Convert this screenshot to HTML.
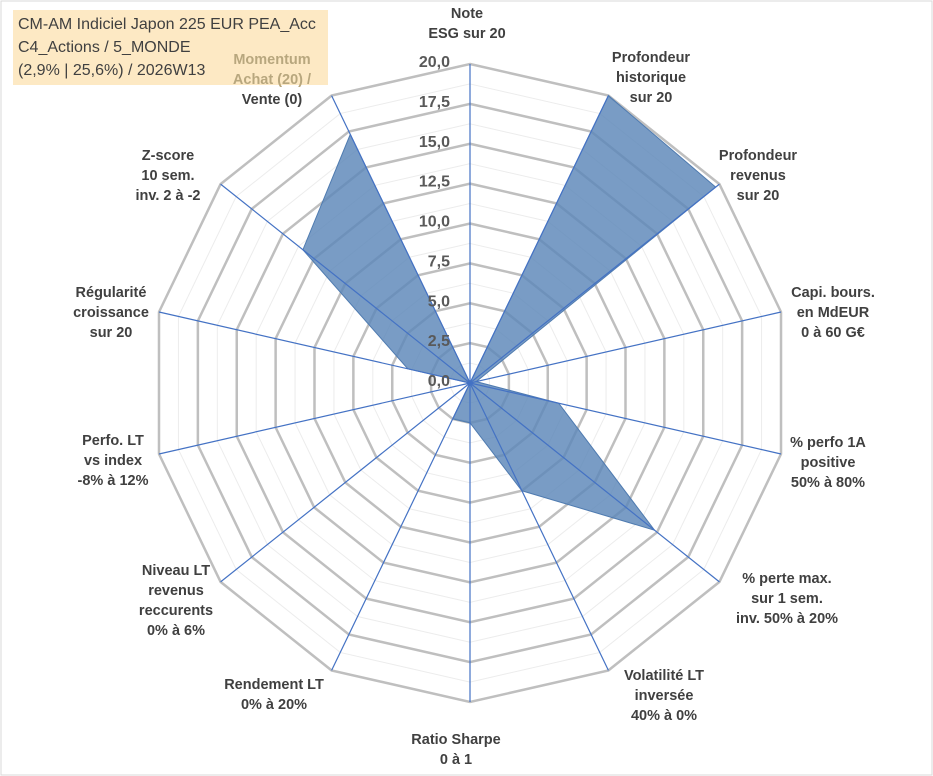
<!DOCTYPE html>
<html><head><meta charset="utf-8"><style>
body{margin:0;background:#fff;}
#wrap{position:relative;width:933px;height:776px;overflow:hidden;font-family:"Liberation Sans",Arial,sans-serif;}
.lbl{position:absolute;font-weight:bold;font-size:14.5px;color:#404040;text-align:center;line-height:20px;white-space:nowrap;transform:translateX(-50%);}
#title{position:absolute;left:13px;top:10px;width:315px;height:75px;background:#fde9c4;}
#title div{position:absolute;left:5px;font-size:16px;color:#404040;white-space:nowrap;}
</style></head><body>
<div id="wrap">
<svg id="chart" width="933" height="776" style="position:absolute;left:0;top:0">
<rect x="1" y="1" width="931" height="774" fill="none" stroke="#d9d9d9"/>
</svg>
<div id="title">
<div style="top:6px">CM-AM Indiciel Japon 225 EUR PEA_Acc</div>
<div style="top:29px">C4_Actions / 5_MONDE</div>
<div style="top:52px">(2,9% | 25,6%) / 2026W13</div>
</div>
<div id="labels"></div>
</div>
<script>
const categories=["Note\nESG sur 20","Profondeur\nhistorique\nsur 20","Profondeur\nrevenus\nsur 20","Capi. bours.\nen MdEUR\n0 à 60 G€","% perfo 1A\npositive\n50% à 80%","% perte max.\nsur 1 sem.\ninv. 50% à 20%","Volatilité LT\ninversée\n40% à 0%","Ratio Sharpe\n0 à 1","Rendement LT\n0% à 20%","Niveau LT\nrevenus\nreccurents\n0% à 6%","Perfo. LT\nvs index\n-8% à 12%","Régularité\ncroissance\nsur 20","Z-score\n10 sem.\ninv. 2 à -2","Momentum\nAchat (20) /\nVente (0)"];
const values=[0,20,19.7,0.4,5.7,14.8,7.5,2.5,2.5,0,0,4,13.4,17.3];
const tickLabels=["0,0","2,5","5,0","7,5","10,0","12,5","15,0","17,5","20,0"];
const tickValues=[0,2.5,5,7.5,10,12.5,15,17.5,20];
const maxV=20;
</script>
<script>
const cx=470,cy=383,R=319,N=categories.length;
const svg=document.getElementById('chart'),NS="http://www.w3.org/2000/svg";
function ang(i){return 2*Math.PI*i/N;}
function pt(i,v){const r=v/maxV*R;return [cx+r*Math.sin(ang(i)),cy-r*Math.cos(ang(i))];}
function mk(t,a){const e=document.createElementNS(NS,t);for(const k in a)e.setAttribute(k,a[k]);svg.appendChild(e);return e;}
for(let k=0;k<tickValues.length-1;k++){const v=(tickValues[k]+tickValues[k+1])/2;
 const p=mk('polygon',{points:categories.map((c,i)=>pt(i,v).join(',')).join(' '),fill:'none',stroke:'#ececec','stroke-width':1});
 
 }
tickValues.forEach(v=>{if(v===0)return;
 const p=mk('polygon',{points:categories.map((c,i)=>pt(i,v).join(',')).join(' '),fill:'none',stroke:'#bfbfbf','stroke-width':2.5});
 
 });
const poly=mk('polygon',{points:values.map((v,i)=>pt(i,v).join(',')).join(' '),fill:'#5b86b8','fill-opacity':0.82,stroke:'#4f7bb0','stroke-width':1});


categories.forEach((c,i)=>{const [x,y]=pt(i,maxV);
 const l=mk('line',{x1:cx,y1:cy,x2:x,y2:y,stroke:'#4472c4','stroke-width':1.2});
 
 });
tickValues.forEach((v,k)=>{const y=cy-v/maxV*R;
 const t=mk('text',{x:cx-20,y:y+3,'text-anchor':'end','font-size':'16','font-weight':'bold',fill:'#595959','font-family':'Liberation Sans, sans-serif'});
 t.textContent=tickLabels[k];
 
 });
const lp=[[467,4],[651,48],[758,146],[833,283],[828,433],[787,569],[664,666],[456,730],[274,675],[176,561],[113,431],[111,283],[168,146],[272,50]];
const labels=document.getElementById('labels');
categories.forEach((c,i)=>{const d=document.createElement('div');
 d.className='lbl';d.style.left=lp[i][0]+'px';d.style.top=lp[i][1]+'px';
 if(i===13){const ls=c.split('\n');d.innerHTML='<span style="color:#b8a77e">'+ls[0]+'<br>'+ls[1]+'</span><br>'+ls[2];}
 else d.innerHTML=c.split('\n').join('<br>');
 
 
 labels.appendChild(d);});
</script>
</body></html>
